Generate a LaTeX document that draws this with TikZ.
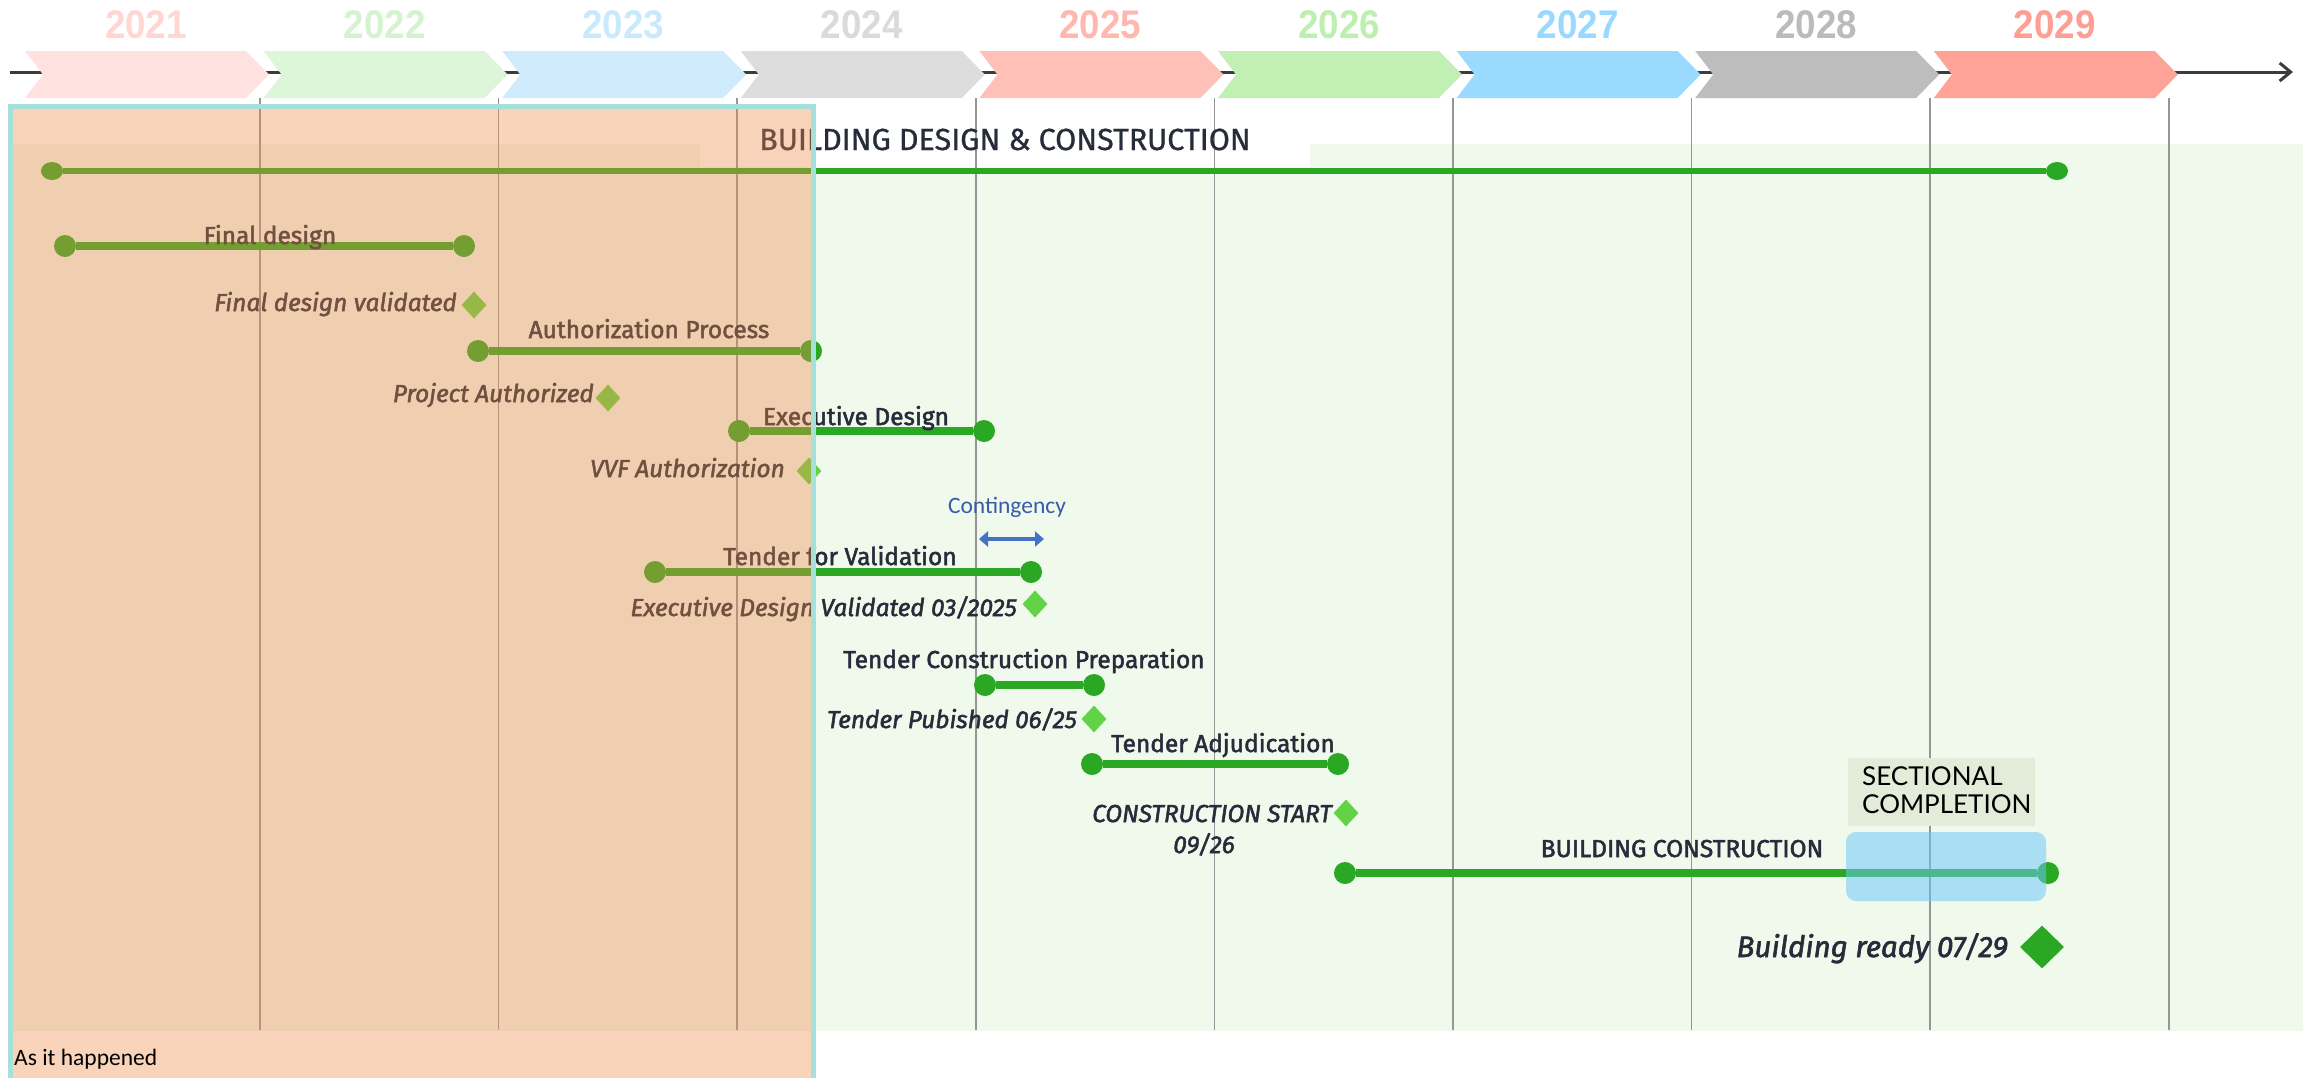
\documentclass[tikz,border=0pt]{standalone}
\usepackage{fontspec}
\setmainfont{Fira Sans}
\newfontfamily\dinfont[FakeBold=2]{Fira Sans}
\newfontfamily\titlefont[FakeBold=0.8]{Fira Sans}
\newfontfamily\yearfont[FakeStretch=0.92]{Liberation Sans}
\newfontfamily\calfont{Carlito}
\newfontfamily\secfont{Lato}
\usetikzlibrary{shapes.geometric,arrows.meta}
\definecolor{c21}{RGB}{255,225,223}
\definecolor{c22}{RGB}{221,245,216}
\definecolor{c23}{RGB}{207,235,252}
\definecolor{c24}{RGB}{221,221,221}
\definecolor{c25}{RGB}{255,192,184}
\definecolor{c26}{RGB}{194,239,180}
\definecolor{c27}{RGB}{155,218,255}
\definecolor{c28}{RGB}{189,189,189}
\definecolor{c29}{RGB}{255,163,152}
\definecolor{t21}{RGB}{255,214,210}
\definecolor{t22}{RGB}{213,243,207}
\definecolor{t23}{RGB}{200,234,252}
\definecolor{t24}{RGB}{218,218,218}
\definecolor{t25}{RGB}{255,184,175}
\definecolor{t26}{RGB}{189,239,174}
\definecolor{t27}{RGB}{153,217,255}
\definecolor{t28}{RGB}{187,187,187}
\definecolor{t29}{RGB}{255,158,147}
\definecolor{bggreen}{RGB}{239,249,236}
\definecolor{gridc}{RGB}{150,150,150}
\definecolor{axisc}{RGB}{60,60,60}
\definecolor{barg}{RGB}{42,168,36}
\definecolor{msg}{RGB}{98,210,70}
\definecolor{txt}{RGB}{38,44,58}
\definecolor{cblue}{RGB}{68,114,196}
\definecolor{ctext}{RGB}{58,91,168}
\definecolor{boxblue}{RGB}{107,198,249}
\definecolor{secbg}{RGB}{226,236,216}
\definecolor{orng}{RGB}{239,140,74}
\definecolor{tealb}{RGB}{166,224,218}
\begin{document}
\begin{tikzpicture}[x=1pt,y=-1pt,
  bar/.style={line width=8.5pt, draw=barg},
  dot/.style={circle, fill=barg, minimum size=22pt, inner sep=0pt},
  topdot/.style={ellipse, fill=barg, minimum width=22pt, minimum height=18pt, inner sep=0pt},
  ms/.style={diamond, fill=msg, minimum width=25pt, minimum height=27pt, inner sep=0pt},
  bigms/.style={diamond, fill=barg, minimum width=44pt, minimum height=43pt, inner sep=0pt},
  lbl/.style={font=\dinfont\fontsize{24.5}{28}\selectfont, text=txt, inner sep=0pt, anchor=base},
  mlbl/.style={font=\dinfont\itshape\fontsize{24.5}{28}\selectfont, text=txt, inner sep=0pt, anchor=base east},
  year/.style={font=\yearfont\bfseries\fontsize{40}{42}\selectfont, inner sep=0pt, anchor=base},
]
\useasboundingbox (0,0) rectangle (2303,1077);
% backgrounds
\fill[bggreen] (10,144) rectangle (2303,1031);
\fill[white] (700,110) rectangle (1310,167);
% grid
\foreach \k in {0,...,8}
  \draw[gridc, line width=1.5pt] ({260+238.6*\k},98) -- ({260+238.6*\k},1030);
% axis
\coordinate (axs) at (10,72);
\coordinate (axe) at (2293,72);
\draw[axisc, line width=3pt, -{Straight Barb[length=11pt,width=18pt,line width=3pt]}] (axs) -- (axe);
% chevrons and years
\foreach \i/\c/\y in {0/21/2021,1/22/2022,2/23/2023,3/24/2024,4/25/2025,5/26/2026,6/27/2027,7/28/2028,8/29/2029}{
  \fill[c\c] ({25+238.6*\i},51) -- ++(221,0) -- ++(23,23.5) -- ++(-23,23.5) -- ++(-221,0) -- ++(18,-23.5) -- cycle;
  \node[year, text=t\c] (y\c) at ({146+238.6*\i},38) {\y};
}
% title
\node[font=\titlefont\fontsize{30.5}{34}\selectfont, text=txt, inner sep=0pt, anchor=base west] (title) at (759,150) {BUILDING DESIGN \& CONSTRUCTION};
% overall line
\node[topdot] (t1) at (52,171) {};
\node[topdot] (t2) at (2057,171) {};
\draw[line width=6pt, barg] (t1) -- (t2);
% Final design
\node[dot] (fd1) at (65,246) {};
\node[dot] (fd2) at (464,246) {};
\draw[bar] (fd1) -- (fd2);
\node[lbl] (fdl) at (270,244) {Final design};
\node[ms] (fdm) at (474,305) {};
\node[mlbl] (fdml) at (457,311) {Final design validated};
% Authorization process
\node[dot] (ap1) at (478,351) {};
\node[dot] (ap2) at (811,351) {};
\draw[bar] (ap1) -- (ap2);
\node[lbl] (apl) at (649,338) {Authorization Process};
\node[ms] (pam) at (608,398) {};
\node[mlbl] (paml) at (594,402) {Project Authorized};
% Executive design
\node[dot] (ed1) at (739,431) {};
\node[dot] (ed2) at (984,431) {};
\draw[bar] (ed1) -- (ed2);
\node[lbl] (edl) at (856,425) {Executive Design};
\node[ms] (vvfm) at (809,471) {};
\node[mlbl] (vvfml) at (785,477) {VVF Authorization};
% contingency
\node[font=\calfont\fontsize{23.5}{26}\selectfont, text=ctext, inner sep=0pt, anchor=base] (cont) at (1007,513) {Contingency};
\coordinate (ca1) at (979,539);
\coordinate (ca2) at (1044,539);
\draw[cblue, line width=4pt, {Triangle[length=9pt,width=15pt]}-{Triangle[length=9pt,width=15pt]}] (ca1) -- (ca2);
% Tender for validation
\node[dot] (tv1) at (655,572) {};
\node[dot] (tv2) at (1031,572) {};
\draw[bar] (tv1) -- (tv2);
\node[lbl] (tvl) at (840,565) {Tender for Validation};
\node[ms] (edvm) at (1035,604) {};
\node[mlbl] (edvml) at (1017,616) {Executive Design Validated 03/2025};
% Tender construction preparation
\node[dot] (tc1) at (985,685) {};
\node[dot] (tc2) at (1094,685) {};
\draw[bar] (tc1) -- (tc2);
\node[lbl] (tcl) at (1024,668) {Tender Construction Preparation};
\node[ms] (tpm) at (1094,719) {};
\node[mlbl] (tpml) at (1077,728) {Tender Pubished 06/25};
% Tender adjudication
\node[dot] (ta1) at (1092,764) {};
\node[dot] (ta2) at (1338,764) {};
\draw[bar] (ta1) -- (ta2);
\node[lbl] (tal) at (1223,752) {Tender Adjudication};
\node[ms] (csm) at (1346,813) {};
\node[mlbl] (csml) at (1332,822) {CONSTRUCTION START};
\node[lbl, font=\dinfont\itshape\fontsize{24.5}{28}\selectfont] (csml2) at (1204,853) {09/26};
% Building construction
\node[dot] (bc1) at (1345,873) {};
\node[dot] (bc2) at (2048,873) {};
\draw[bar] (bc1) -- (bc2);
\node[lbl] (bcl) at (1682,857) {BUILDING CONSTRUCTION};
\fill[boxblue, opacity=0.52, rounded corners=10pt] (1846,832) rectangle (2046,901);
\fill[secbg] (1848,758) rectangle (2035,826);
\node[font=\secfont\fontsize{26}{28}\selectfont, text=black, inner sep=0pt, anchor=base west] (sec1) at (1862,785) {SECTIONAL};
\node[font=\secfont\fontsize{26}{28}\selectfont, text=black, inner sep=0pt, anchor=base west] (sec2) at (1862,813) {COMPLETION};
\node[bigms] (brm) at (2042,947) {};
\node[font=\dinfont\itshape\fontsize{29.5}{32}\selectfont, text=txt, inner sep=0pt, anchor=base east] (brml) at (2008,957) {Building ready 07/29};
% as it happened overlay
\fill[orng, opacity=0.375] (10,106) rectangle (813,1082);
\draw[tealb, line width=5pt] (10,106) rectangle (813,1082);
\node[font=\calfont\fontsize{23.5}{26}\selectfont, text=black, inner sep=0pt, anchor=base west] (asit) at (14,1065) {As it happened};
\end{tikzpicture}
\end{document}
